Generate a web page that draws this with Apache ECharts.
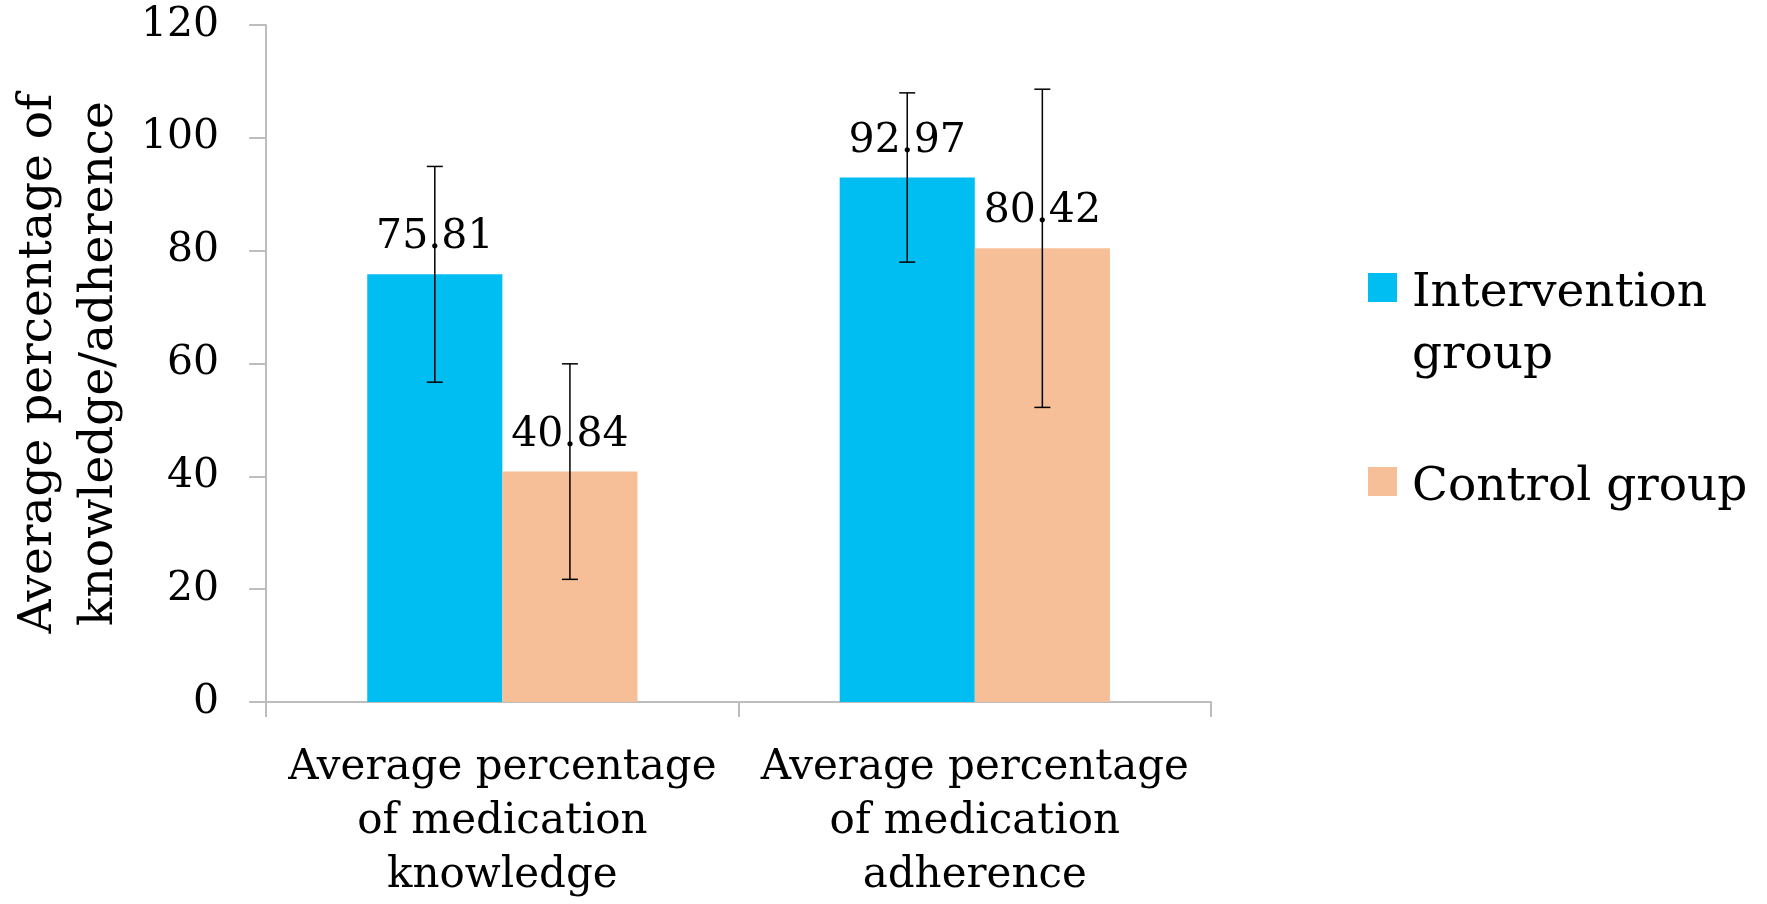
<!DOCTYPE html>
<html>
<head>
<meta charset="utf-8">
<script src="https://cdn.jsdelivr.net/npm/echarts@6/dist/echarts.min.js"></script>
<style>
  html, body { margin: 0; padding: 0; background: #ffffff; }
  #chart { width: 1767px; height: 904px; }
</style>
</head>
<body>
<div id="chart"></div>
<script>
// ---- data ----
const categories = [
  'Average percentage\nof medication\nknowledge',
  'Average percentage\nof medication\nadherence'
];
const seriesNames = ['Intervention group', 'Control group'];
const legendLabels = ['Intervention\ngroup', 'Control group'];
const interventionMeans = [75.81, 92.97];
const controlMeans = [40.84, 80.42];
const interventionSD = [19.12, 15.0];
const controlSD = [19.1, 28.2];
const yTicks = { min: 0, max: 120, interval: 20 };
const yAxisTitle = 'Average percentage of\nknowledge/adherence';

// ---- style constants ----
const FONT = 'DejaVu Serif';
const BLUE = '#00BEF2';
const ORANGE = '#F6BF97';
const AXIS_GRAY = '#BDBDBD';
const CAT_GAP = 0.428;

function errData(means, sds) {
  return means.map((m, i) => [i, m - sds[i], m + sds[i]]);
}

function makeErrRender(sign) {
  return function (params, api) {
    const cat = api.value(0);
    const lo = api.coord([cat, api.value(1)]);
    const hi = api.coord([cat, api.value(2)]);
    const band = api.size([1, 0])[0];
    const bw = band * (1 - CAT_GAP) / 2;
    const x = lo[0] + sign * bw / 2;
    const cap = 8;
    const st = { stroke: '#000000', lineWidth: 1.5 };
    return {
      type: 'group',
      children: [
        { type: 'line', shape: { x1: x, y1: lo[1], x2: x, y2: hi[1] }, style: st },
        { type: 'line', shape: { x1: x - cap, y1: hi[1], x2: x + cap, y2: hi[1] }, style: st },
        { type: 'line', shape: { x1: x - cap, y1: lo[1], x2: x + cap, y2: lo[1] }, style: st }
      ]
    };
  };
}

function richLines(text) {
  return text.split('\n').map(s => '{a|' + s + '}').join('\n');
}

const chart = echarts.init(document.getElementById('chart'), null, { renderer: 'canvas' });

const labelCommon = {
  show: true,
  position: 'top',
  distance: 16,
  fontFamily: FONT,
  fontSize: 41,
  color: '#000000',
  formatter: p => p.value.toFixed(2)
};

const legendRich1 = {
  a: { fontFamily: FONT, fontSize: 47, color: '#000', lineHeight: 62, padding: [12, 0, 0, 0] },
  e: { fontFamily: FONT, fontSize: 47, color: '#000', lineHeight: 62, padding: [12, 0, 0, 0] }
};
const legendRich2 = {
  a: { fontFamily: FONT, fontSize: 47, color: '#000', lineHeight: 50, padding: [12, 0, 0, 0] }
};

chart.setOption({
  animation: false,
  backgroundColor: '#ffffff',
  textStyle: { fontFamily: FONT },
  grid: { left: 263, right: 556, top: 25, bottom: 202, containLabel: false },
  legend: [
    {
      data: [seriesNames[0]],
      orient: 'vertical',
      left: 1368,
      top: 196,
      padding: 0,
      icon: 'rect',
      itemWidth: 29,
      itemHeight: 29,
      selectedMode: false,
      formatter: () => '{e| }\n' + richLines(legendLabels[0]),
      textStyle: { fontFamily: FONT, fontSize: 47, color: '#000', padding: [0, 0, 0, 10], rich: legendRich1 }
    },
    {
      data: [seriesNames[1]],
      orient: 'vertical',
      left: 1368,
      top: 452,
      padding: 0,
      icon: 'rect',
      itemWidth: 29,
      itemHeight: 29,
      selectedMode: false,
      formatter: () => richLines(legendLabels[1]),
      textStyle: { fontFamily: FONT, fontSize: 47, color: '#000', padding: [0, 0, 0, 10], rich: legendRich2 }
    }
  ],
  xAxis: {
    type: 'category',
    data: categories,
    axisLine: { show: true, lineStyle: { color: AXIS_GRAY, width: 2 } },
    axisTick: { show: true, length: 15, lineStyle: { color: AXIS_GRAY, width: 2 } },
    axisLabel: {
      interval: 0,
      margin: 39,
      fontFamily: FONT,
      fontSize: 42,
      lineHeight: 54,
      color: '#000000',
      align: 'center'
    },
    splitLine: { show: false }
  },
  yAxis: {
    type: 'value',
    min: yTicks.min,
    max: yTicks.max,
    interval: yTicks.interval,
    name: yAxisTitle,
    nameLocation: 'middle',
    nameRotate: 90,
    nameGap: 122,
    nameTextStyle: { fontFamily: FONT, fontSize: 47, color: '#000000', lineHeight: 61 },
    axisLine: { show: true, lineStyle: { color: AXIS_GRAY, width: 2 } },
    axisTick: { show: true, length: 17, lineStyle: { color: AXIS_GRAY, width: 2 } },
    axisLabel: { margin: 47, fontFamily: FONT, fontSize: 41, color: '#000000' },
    splitLine: { show: false }
  },
  series: [
    {
      name: seriesNames[0],
      type: 'bar',
      data: interventionMeans,
      barGap: '0%',
      barCategoryGap: (CAT_GAP * 100) + '%',
      itemStyle: { color: BLUE },
      label: labelCommon,
      z: 2
    },
    {
      name: seriesNames[1],
      type: 'bar',
      data: controlMeans,
      barGap: '0%',
      barCategoryGap: (CAT_GAP * 100) + '%',
      itemStyle: { color: ORANGE },
      label: labelCommon,
      z: 2
    },
    {
      name: 'Intervention error',
      type: 'custom',
      renderItem: makeErrRender(-1),
      data: errData(interventionMeans, interventionSD),
      encode: { x: 0, y: [1, 2] },
      z: 5,
      silent: true
    },
    {
      name: 'Control error',
      type: 'custom',
      renderItem: makeErrRender(1),
      data: errData(controlMeans, controlSD),
      encode: { x: 0, y: [1, 2] },
      z: 5,
      silent: true
    }
  ]
});
</script>
</body>
</html>
